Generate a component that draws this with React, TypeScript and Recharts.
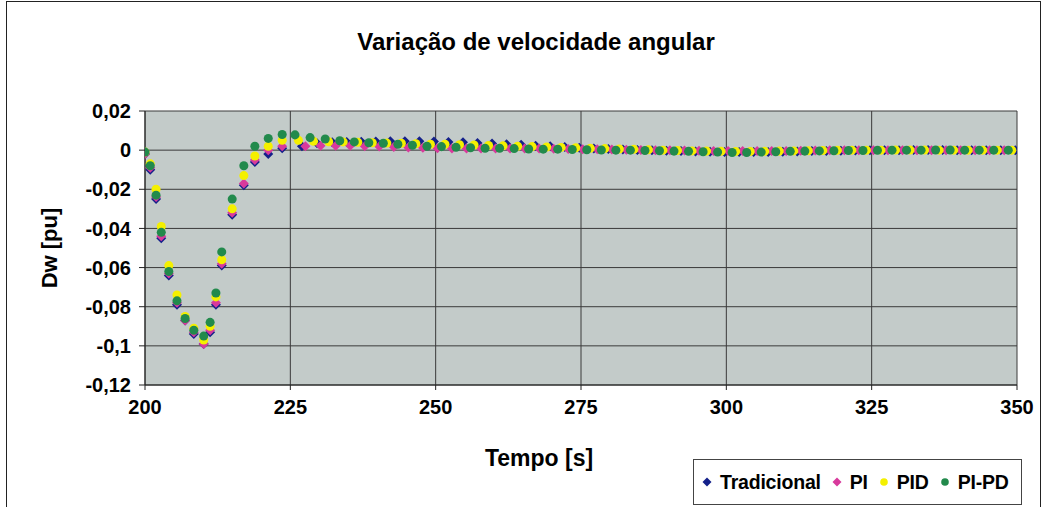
import { ScatterChart, Scatter, XAxis, YAxis, ZAxis, CartesianGrid } from "recharts";

// instantes do transitório (comuns às quatro séries)
const tempoInicial = [200, 200.9, 201.9, 202.8, 204.1, 205.5, 206.9, 208.4, 210.1, 211.2, 212.2, 213.2, 215.0, 217.0, 218.9, 221.2, 223.6];
const dwInicialTradicional = [-0.002, -0.010, -0.025, -0.045, -0.064, -0.079, -0.087, -0.094, -0.099, -0.093, -0.079, -0.059, -0.033, -0.018, -0.006, -0.002, 0.001];
const dwInicialPI = [-0.002, -0.009, -0.024, -0.044, -0.063, -0.078, -0.087, -0.093, -0.099, -0.092, -0.078, -0.058, -0.032, -0.017, -0.005, 0.000, 0.002];
const dwInicialPID = [-0.001, -0.007, -0.020, -0.039, -0.059, -0.074, -0.085, -0.091, -0.097, -0.090, -0.075, -0.056, -0.030, -0.013, -0.003, 0.002, 0.005];
const dwInicialPIPD = [-0.001, -0.008, -0.023, -0.042, -0.062, -0.077, -0.086, -0.092, -0.095, -0.088, -0.073, -0.052, -0.025, -0.008, 0.002, 0.006, 0.008];

// cauda (cada série com os seus próprios instantes)
const tempoFinalPIPD = [225.8, 228.4, 231.0, 233.5, 236.0, 238.5, 241.0, 243.5, 246.0, 248.5, 251.0, 253.5, 256.0, 258.5, 261.0, 263.5, 266.0, 268.5, 271.0, 273.5, 276.0, 278.5, 281.0, 283.5, 286.0, 288.5, 291.0, 293.5, 296.0, 298.5, 301.0, 303.5, 306.0, 308.5, 311.0, 313.5, 316.0, 318.5, 321.0, 323.5, 326.0, 328.5, 331.0, 333.5, 336.0, 338.5, 341.0, 343.5, 346.0, 348.5];
const dwFinalPIPD = [0.0078, 0.0064, 0.0057, 0.0048, 0.0042, 0.0038, 0.0035, 0.003, 0.0025, 0.002, 0.0018, 0.0015, 0.0012, 0.001, 0.001, 0.0008, 0.0006, 0.0005, 0.0005, 0.0003, 0.0002, 0.0001, 0, 0, -0.0002, -0.0003, -0.0005, -0.0006, -0.0008, -0.001, -0.0012, -0.0012, -0.001, -0.0008, -0.0006, -0.0005, -0.0004, -0.0003, -0.0002, -0.0002, -0.0001, 0, 0, 0, 0.0001, 0.0001, 0, 0, 0, 0];

const tempoFinalPID = [226.4, 229.0, 231.6, 234.1, 236.6, 239.1, 241.6, 244.1, 246.6, 249.1, 251.6, 254.1, 256.6, 259.1, 261.6, 264.1, 266.6, 269.1, 271.6, 274.1, 276.6, 279.1, 281.6, 284.1, 286.6, 289.1, 291.6, 294.1, 296.6, 299.1, 301.6, 304.1, 306.6, 309.1, 311.6, 314.1, 316.6, 319.1, 321.6, 324.1, 326.6, 329.1, 331.6, 334.1, 336.6, 339.1, 341.6, 344.1, 346.6, 349.1];
const dwFinalPID = [0.005, 0.0045, 0.0043, 0.0042, 0.004, 0.0038, 0.0036, 0.0035, 0.0033, 0.003, 0.003, 0.0028, 0.0026, 0.0024, 0.0022, 0.002, 0.0018, 0.0016, 0.0014, 0.0012, 0.001, 0.0008, 0.0006, 0.0004, 0.0002, 0, -0.0002, -0.0004, -0.0005, -0.0006, -0.0007, -0.0007, -0.0006, -0.0005, -0.0004, -0.0003, -0.0002, -0.0001, 0, 0, 0, 0.0001, 0.0001, 0.0001, 0, 0, 0, 0, 0, 0];

const tempoFinalTradicional = [227.0, 229.6, 232.2, 234.7, 237.2, 239.7, 242.2, 244.7, 247.2, 249.7, 252.2, 254.7, 257.2, 259.7, 262.2, 264.7, 267.2, 269.7, 272.2, 274.7, 277.2, 279.7, 282.2, 284.7, 287.2, 289.7, 292.2, 294.7, 297.2, 299.7, 302.2, 304.7, 307.2, 309.7, 312.2, 314.7, 317.2, 319.7, 322.2, 324.7, 327.2, 329.7, 332.2, 334.7, 337.2, 339.7, 342.2, 344.7, 347.2, 349.7];
const dwFinalTradicional = [0.002, 0.0035, 0.004, 0.0042, 0.0043, 0.0044, 0.0045, 0.0045, 0.0045, 0.0044, 0.0042, 0.004, 0.0037, 0.0034, 0.003, 0.0027, 0.0023, 0.002, 0.0016, 0.0012, 0.0009, 0.0006, 0.0003, 0.0001, -0.0001, -0.0003, -0.0005, -0.0007, -0.0008, -0.0009, -0.001, -0.001, -0.0009, -0.0008, -0.0007, -0.0005, -0.0004, -0.0003, -0.0002, -0.0001, 0, 0, 0.0001, 0.0001, 0.0001, 0, 0, 0, 0, 0];

const tempoFinalPI = [227.6, 230.2, 232.8, 235.3, 237.8, 240.3, 242.8, 245.3, 247.8, 250.3, 252.8, 255.3, 257.8, 260.3, 262.8, 265.3, 267.8, 270.3, 272.8, 275.3, 277.8, 280.3, 282.8, 285.3, 287.8, 290.3, 292.8, 295.3, 297.8, 300.3, 302.8, 305.3, 307.8, 310.3, 312.8, 315.3, 317.8, 320.3, 322.8, 325.3, 327.8, 330.3, 332.8, 335.3, 337.8, 340.3, 342.8, 345.3, 347.8];
const dwFinalPI = [0.002, 0.0022, 0.0022, 0.0022, 0.002, 0.0018, 0.0016, 0.0014, 0.0012, 0.001, 0.0009, 0.0008, 0.0008, 0.0008, 0.0008, 0.0008, 0.0008, 0.0007, 0.0006, 0.0005, 0.0004, 0.0003, 0.0002, 0.0001, 0, -0.0001, -0.0002, -0.0003, -0.0004, -0.0004, -0.0005, -0.0005, -0.0004, -0.0004, -0.0003, -0.0002, -0.0001, 0, 0, 0, 0, 0, 0, 0, 0, 0, 0, 0, 0];

const ticksTempo = [200, 225, 250, 275, 300, 325, 350];
const ticksDw = [0.02, 0, -0.02, -0.04, -0.06, -0.08, -0.1, -0.12];

const FONT = "'Liberation Sans', Arial, sans-serif";
const COR_TRAD = "#14208a";
const COR_PI = "#d83a9c";
const COR_PID = "#f4f000";
const COR_PIPD = "#228a4c";

function junta(t: number[], v: number[]) {
  const n = Math.min(t.length, v.length);
  const out: { t: number; v: number }[] = [];
  for (let i = 0; i < n; i++) out.push({ t: t[i], v: v[i] });
  return out;
}

const dadosTradicional = [...junta(tempoInicial, dwInicialTradicional), ...junta(tempoFinalTradicional, dwFinalTradicional)];
const dadosPI = [...junta(tempoInicial, dwInicialPI), ...junta(tempoFinalPI, dwFinalPI)];
const dadosPID = [...junta(tempoInicial, dwInicialPID), ...junta(tempoFinalPID, dwFinalPID)];
const dadosPIPD = [...junta(tempoInicial, dwInicialPIPD), ...junta(tempoFinalPIPD, dwFinalPIPD)];

const fmt = (v: number) => String(v).replace(".", ",");
const tickStyle = { fontSize: 20, fontWeight: "bold" as const, fill: "#000", fontFamily: FONT };

// losango "quadrado" como o do Excel (o diamond do recharts é esticado)
function losango(cor: string) {
  return (props: any) => {
    const { cx, cy } = props;
    if (cx == null || cy == null) return <g />;
    const r = 5;
    return <polygon points={`${cx},${cy - r} ${cx + r},${cy} ${cx},${cy + r} ${cx - r},${cy}`} fill={cor} />;
  };
}

function Marcador({ tipo, cor }: { tipo: "diamond" | "circle"; cor: string }) {
  return (
    <svg width={12} height={12} style={{ verticalAlign: "middle", marginRight: 7 }}>
      {tipo === "diamond" ? <polygon points="6,1.5 10.5,6 6,10.5 1.5,6" fill={cor} /> : <circle cx={6} cy={6} r={3.8} fill={cor} />}
    </svg>
  );
}

export default function App() {
  return (
    <div style={{ position: "absolute", left: 0, top: 0, width: 1046, height: 507, background: "#fff", fontFamily: FONT, overflow: "hidden" }}>
      <div style={{ position: "absolute", left: 6, top: 1, width: 1033, height: 530, border: "1px solid #222" }} />
      <div style={{ position: "absolute", left: 0, top: 0 }}>
        <ScatterChart width={1046} height={507} margin={{ top: 111, right: 29, bottom: 82, left: 85 }}>
          <CartesianGrid fill="#c3cbc9" stroke="#3a3a3a" strokeOpacity={1} />
          <XAxis type="number" dataKey="t" domain={[200, 350]} ticks={ticksTempo} height={40} tick={tickStyle} tickSize={5} tickMargin={10} axisLine={{ stroke: "#222" }} tickLine={{ stroke: "#222" }} allowDataOverflow />
          <YAxis type="number" dataKey="v" domain={[-0.12, 0.02]} ticks={ticksDw} width={60} tick={tickStyle} tickFormatter={fmt} tickSize={6} tickMargin={8} axisLine={{ stroke: "#222" }} tickLine={{ stroke: "#222" }} allowDataOverflow />
          <ZAxis range={[64, 64]} />
          <Scatter name="Tradicional" data={dadosTradicional} fill={COR_TRAD} shape={losango(COR_TRAD)} isAnimationActive={false} />
          <Scatter name="PI" data={dadosPI} fill={COR_PI} shape={losango(COR_PI)} isAnimationActive={false} />
          <Scatter name="PID" data={dadosPID} fill={COR_PID} shape="circle" isAnimationActive={false} />
          <Scatter name="PI-PD" data={dadosPIPD} fill={COR_PIPD} shape="circle" isAnimationActive={false} />
        </ScatterChart>
      </div>
      <div style={{ position: "absolute", left: 536, top: 42, transform: "translate(-50%, -50%)", fontSize: 24, fontWeight: "bold", whiteSpace: "nowrap" }}>
        Variação de velocidade angular
      </div>
      <div style={{ position: "absolute", left: 50, top: 248, transform: "translate(-50%, -50%) rotate(-90deg)", fontSize: 22, fontWeight: "bold", whiteSpace: "nowrap" }}>
        Dw [pu]
      </div>
      <div style={{ position: "absolute", left: 539, top: 458, transform: "translate(-50%, -50%)", fontSize: 23, fontWeight: "bold", whiteSpace: "nowrap" }}>
        Tempo [s]
      </div>
      <div style={{ position: "absolute", left: 693, top: 459, width: 329, height: 46, border: "1px solid #444", boxSizing: "border-box", display: "flex", alignItems: "center", paddingLeft: 7, fontSize: 19.5, fontWeight: "bold", whiteSpace: "nowrap", letterSpacing: -0.2 }}>
        <Marcador tipo="diamond" cor={COR_TRAD} />
        <span style={{ marginRight: 10 }}>Tradicional</span>
        <Marcador tipo="diamond" cor={COR_PI} />
        <span style={{ marginRight: 10 }}>PI</span>
        <Marcador tipo="circle" cor={COR_PID} />
        <span style={{ marginRight: 10 }}>PID</span>
        <Marcador tipo="circle" cor={COR_PIPD} />
        <span>PI-PD</span>
      </div>
    </div>
  );
}
